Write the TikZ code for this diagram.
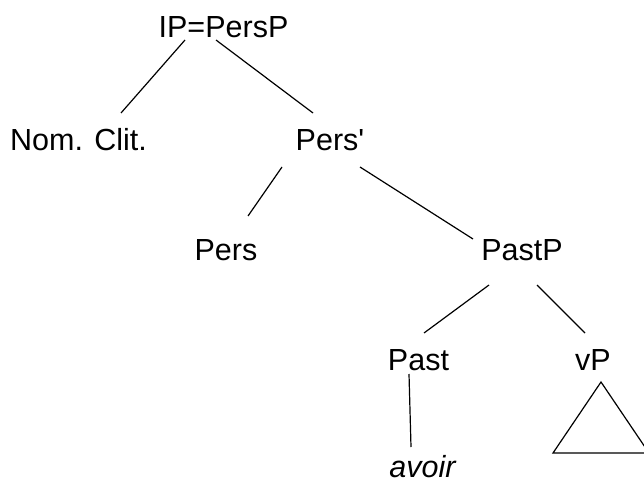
\documentclass[tikz,border=0pt]{standalone}
\usepackage{fontspec}
\setmainfont{Liberation Sans}[Ligatures=TeXOff]
\begin{document}
\begin{tikzpicture}[x=1pt,y=-1pt,
  lbl/.style={anchor=base,inner sep=0pt,font=\fontsize{30.5}{36}\selectfont},
  edge/.style={line width=1.2pt,black}]
\useasboundingbox (0,0) rectangle (644,481);
\node[lbl] (ip) at (223.5,38) {IP=PersP};
\node[lbl] (nom) at (78.5,150) {Nom. Clit.};
\node[lbl] (persbar) at (330,150) {Pers'};
\node[lbl] (pers) at (226,260) {Pers};
\node[lbl] (pastp) at (522,260) {PastP};
\node[lbl] (past) at (418.5,370) {Past};
\node[lbl] (vp) at (593,370) {vP};
\node[lbl] (avoir) at (422.5,477.5) {\itshape avoir};
\draw[edge] ([shift={(-38.5,2)}]ip.base) -- ([shift={(42.5,-37)}]nom.base);
\draw[edge] ([shift={(-7.5,2)}]ip.base) -- ([shift={(-17,-37)}]persbar.base);
\draw[edge] ([shift={(-48,17)}]persbar.base) -- ([shift={(22,-44)}]pers.base);
\draw[edge] ([shift={(30,17)}]persbar.base) -- ([shift={(-49,-21)}]pastp.base);
\draw[edge] ([shift={(-33,25)}]pastp.base) -- ([shift={(5.5,-37)}]past.base);
\draw[edge] ([shift={(15,25)}]pastp.base) -- ([shift={(-8,-37)}]vp.base);
\draw[edge] ([shift={(-9.5,4)}]past.base) -- ([shift={(-11.5,-30.5)}]avoir.base);
\draw[edge,line join=miter] ([shift={(8,12)}]vp.base) -- ([shift={(-40,83)}]vp.base) -- ([shift={(56,83)}]vp.base) -- cycle;
\end{tikzpicture}
\end{document}
